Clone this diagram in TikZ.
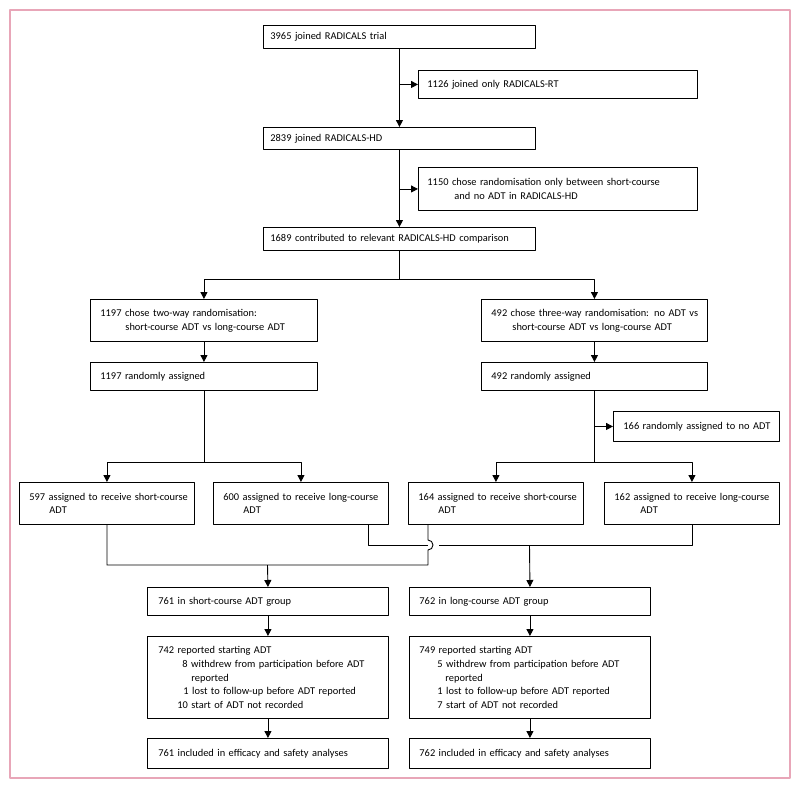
\documentclass[tikz,border=0pt]{standalone}
\usepackage{fontspec}
\setmainfont{Carlito}[WordSpace=0.75]
\usetikzlibrary{arrows.meta}
\definecolor{framepink}{RGB}{232,166,184}
\begin{document}
\begin{tikzpicture}[x=1pt,y=-1pt,>={Triangle[width=7pt,length=7pt]},line join=round,line width=0.9pt,
	box/.style={draw,anchor=north west,align=left,inner xsep=7pt,inner ysep=0pt,font=\fontsize{10.4}{13.7}\selectfont}]
			\useasboundingbox (0,0) rectangle (800,788);
			\draw[framepink,line width=2pt] (10,10) rectangle (790,778);
			% top chain
			\node[box,text width=258pt,minimum height=23pt] (trial) at (263,25) {3965 joined RADICALS trial};
			\node[box,text width=265pt,minimum height=28pt] (rt) at (418,70) {\hspace*{2pt}1126 joined only RADICALS-RT};
			\node[box,text width=258pt,minimum height=22pt] (hd) at (263,127) {2839 joined RADICALS-HD};
			\node[box,text width=265pt,minimum height=43pt] (only) at (418,167) {\hspace*{2pt}1150 chose randomisation only between short-course\\\hspace*{29pt}and no ADT in RADICALS-HD};
			\node[box,text width=258pt,minimum height=23pt] (cmp) at (263,227) {1689 contributed to relevant RADICALS-HD comparison};
			\draw[->] (trial.south) -- (hd.north);
			\draw[->] (trial.south |- rt.west) -- (rt.west);
			\draw[->] (hd.south) -- (cmp.north);
			\draw[->] (hd.south |- only.west) -- (only.west);
			% two arms of the choice
			\node[box,text width=213pt,minimum height=42pt] (two) at (90,299) {\hspace*{3pt}1197 chose two-way randomisation:\\\hspace*{28pt}short-course ADT vs long-course ADT};
			\node[box,text width=212pt,minimum height=42pt] (three) at (481,299) {\hspace*{3pt}492 chose three-way randomisation: no ADT vs\\\hspace*{24pt}short-course ADT vs long-course ADT};
			\draw (cmp.south) -- ++(0,29) coordinate (split);
			\draw[->] (split) -| (two.north);
			\draw[->] (split) -| (three.north);
			\node[box,text width=213pt,minimum height=28pt] (tworand) at (90,362) {\hspace*{3pt}1197 randomly assigned};
			\node[box,text width=212pt,minimum height=28pt] (threerand) at (481,362) {\hspace*{3pt}492 randomly assigned};
			\draw[->] (two) -- (tworand);
			\draw[->] (three) -- (threerand);
			\node[box,text width=152pt,minimum height=30pt] (noadt) at (613,411) {\hspace*{3pt}166 randomly assigned to no ADT};
			\draw[->] (threerand.south |- noadt.west) -- (noadt.west);
			% assigned groups
			\node[box,text width=161pt,minimum height=42pt] (sa) at (19,482) {\mbox{\hspace*{3pt}597 assigned to receive short-course}\\\hspace*{23pt}ADT};
			\node[box,text width=161pt,minimum height=42pt] (la) at (213,482) {\mbox{\hspace*{3pt}600 assigned to receive long-course}\\\hspace*{23pt}ADT};
			\node[box,text width=161pt,minimum height=42pt] (sb) at (408,482) {\mbox{\hspace*{3pt}164 assigned to receive short-course}\\\hspace*{23pt}ADT};
			\node[box,text width=161pt,minimum height=42pt] (lb) at (604,482) {\mbox{\hspace*{3pt}162 assigned to receive long-course}\\\hspace*{29pt}ADT};
			\draw (tworand.south) -- ++(0,72) coordinate (split2);
			\draw[->] (split2) -| (sa.north);
			\draw[->] (split2) -| (la.north);
			\draw (threerand.south) -- ++(0,72) coordinate (split3);
			\draw[->] (split3) -| (sb.north);
			\draw[->] (split3) -| (lb.north);
			% pooled groups
			\node[box,text width=227pt,minimum height=28pt] (sg) at (147,587) {\hspace*{4pt}761 in short-course ADT group};
			\node[box,text width=227pt,minimum height=28pt] (lg) at (409,587) {\hspace*{3pt}762 in long-course ADT group};
			\coordinate (ladrop) at ([xshift=-20pt]la.south east);
			\coordinate (sbdrop) at ([xshift=20pt]sb.south west);
			\coordinate (sjoin) at (267.5,565);
			\coordinate (ljoin) at (529.5,545);
			\coordinate (hopend) at (439,545);
			\draw (sa.south) |- (sbdrop |- sjoin) -- ++(0,-15) arc[start angle=-90,end angle=90,radius=5pt] -- (sbdrop);
			\draw (ladrop) |- (sbdrop |- ljoin);
			\draw (lb.south) |- (hopend);
			\draw[->] (sjoin) -- (sg.north);
			\draw[->] (ljoin) -- (lg.north);
			% follow-up
			\node[box,text width=227pt,minimum height=82pt] (sr) at (147,636) {\hspace*{4pt}742 reported starting ADT\\\hspace*{28pt}8 withdrew from participation before ADT\\\hspace*{37pt}reported\\\hspace*{29pt}1 lost to follow-up before ADT reported\\\hspace*{23pt}10 start of ADT not recorded};
			\node[box,text width=227pt,minimum height=82pt] (lr) at (409,636) {\hspace*{3pt}749 reported starting ADT\\\hspace*{21pt}5 withdrew from participation before ADT\\\hspace*{29pt}reported\\\hspace*{21pt}1 lost to follow-up before ADT reported\\\hspace*{21pt}7 start of ADT not recorded};
			\node[box,text width=227pt,minimum height=30pt] (sf) at (147,738) {\hspace*{4pt}761 included in efficacy and safety analyses};
			\node[box,text width=227pt,minimum height=30pt] (lf) at (409,738) {\hspace*{3pt}762 included in efficacy and safety analyses};
			\draw[->] (sg) -- (sr);
			\draw[->] (lg) -- (lr);
			\draw[->] (sr) -- (sf);
			\draw[->] (lr) -- (lf);
		\end{tikzpicture}
\end{document}
